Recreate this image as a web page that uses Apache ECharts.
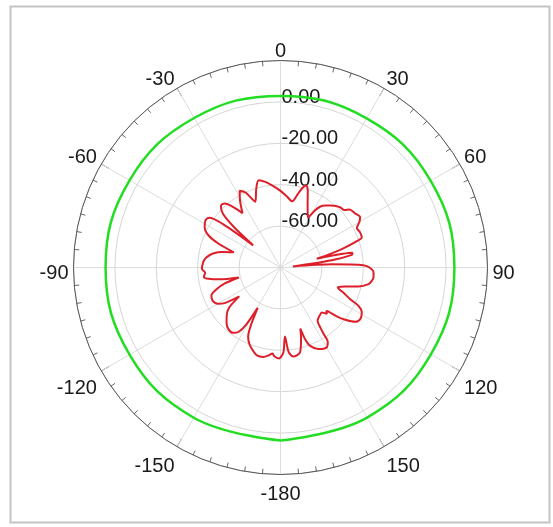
<!DOCTYPE html>
<html><head><meta charset="utf-8">
<script src="https://cdn.jsdelivr.net/npm/echarts@6/dist/echarts.min.js"></script>
<style>html,body{margin:0;padding:0;background:#fff}#c{width:553px;height:527px}</style>
</head><body><div id="c"></div>
<script>
// Angle tick labels (degrees, 0 at top, clockwise)
const angleTicks = [0,30,60,90,120,150,-180,-150,-120,-90,-60,-30];
// Radial tick labels (dB)
const radialTicks = [0,-20,-40,-60];
// Green trace
const greenAngles = [-180,-150,-120,-90,-60,-30,0,30,60,90,120,150,180];
const greenValues = [3.6,3.8,4.2,4.5,4.2,3.4,2.9,3.2,3.8,4.0,3.9,3.7,3.6];
// Red trace
const redAngles = [-180,-179,-176,-174.7,-172,-169,-165,-162,-158,-155,-152.5,-150.5,-149,-147,-144,-140,-136,-132,-128,-125,-122.5,-120,-116,-112,-109,-106,-103.5,-101,-99,-97,-94,-91,-88,-85,-82,-78,-75,-72,-69,-66,-62,-58,-55,-53,-51,-49,-47,-44,-41,-38,-35,-31,-28,-25,-21,-17,-14,-10,-5,0,5,10,13,15.5,17.5,19.5,22,25,29,31,33,36,39,42,45,48,50,54,57.7,60,62.7,66,69.6,71,73,75,76.5,77.5,78.5,80,82,85,86.5,87.5,88.4,90,93,96,98.5,100.7,103.7,106.4,109.2,112,114.5,116.2,119,122.9,126,128.9,131,132.5,133.5,135,137.4,141,145,146.5,147,147.5,150,155,159.2,161,162,164,167,171.7,174.5,176.3,178];
const redValues = [-36.5,-36,-37,-38.3,-37,-36,-36,-37.5,-40,-43,-50,-57.6,-48,-43,-41,-41,-42.5,-45,-48.5,-55.7,-48,-45,-43.5,-44,-47,-52,-59.3,-50,-45,-42.7,-43.5,-42,-42.3,-42.8,-44,-47,-51,-56.3,-48,-42,-38.5,-37.2,-38,-45,-63,-50,-42,-38.5,-39,-43,-48,-42,-38,-40,-46,-40,-36.5,-38,-40.5,-43,-45.5,-47.5,-44,-40,-38.5,-40.5,-45,-49,-52.3,-48,-45,-43,-41.5,-40,-39,-38.5,-36.5,-35.5,-34.5,-36,-38.5,-38,-38.1,-41,-48,-56,-62,-50,-44.5,-45,-55,-74,-55,-46,-40,-37,-35,-34.8,-35.5,-36.7,-41.2,-47.4,-50.7,-47,-43,-38,-35.1,-34.1,-35.4,-39.8,-44,-48.5,-49.5,-48.3,-50.5,-50,-48.8,-45,-41,-37.5,-35.4,-36.5,-39.5,-43.4,-49,-44,-38,-36.5,-39,-46.6,-39];

const toA = a => (a < 0 ? a + 360 : a);
const mk = (angs, vals) => { const d = angs.map((a, i) => [vals[i], toA(a)]); d.push(d[0]); return d; };
const topSet = [0,30,60,-30,-60], sideSet = [90,-90];

const chart = echarts.init(document.getElementById('c'), null, {renderer: 'canvas'});
const lblFont = {color: '#1a1a1a', fontSize: 20, fontFamily: 'Liberation Sans, Arial, sans-serif'};
chart.setOption({
  backgroundColor: '#fff',
  animation: false,
  graphic: [{type: 'rect', shape: {x: 10.5, y: 6.5, width: 539, height: 516}, style: {fill: 'none', stroke: '#c4c4c4', lineWidth: 2}, silent: true}],
  polar: {center: [280.5, 267.5], radius: 207},
  angleAxis: {
    type: 'value', min: 0, max: 360, interval: 30, startAngle: 90, clockwise: true,
    axisLine: {show: true, lineStyle: {color: '#555', width: 1}},
    axisTick: {show: true, inside: true, length: 9, lineStyle: {color: '#555'}},
    minorTick: {show: true, splitNumber: 6, length: 5, lineStyle: {color: '#666'}},
    splitLine: {show: true, lineStyle: {color: '#dcdcdc', width: 1}},
    axisLabel: {
      margin: 5,
      formatter: v => {
        if (v >= 360) return '';
        const a = v >= 180 ? v - 360 : v;
        if (angleTicks.indexOf(a) < 0) return '';
        const k = topSet.indexOf(a) >= 0 ? 't' : (sideSet.indexOf(a) >= 0 ? 's' : 'b');
        return '{' + k + '|' + a + '}';
      },
      rich: {
        t: Object.assign({lineHeight: 9}, lblFont),
        s: Object.assign({padding: [12, 0, 0, 0]}, lblFont),
        b: Object.assign({padding: [5, 0, 0, 0]}, lblFont)
      }
    }
  },
  radiusAxis: {
    type: 'value', min: -80, max: 20, interval: 20,
    axisLine: {show: false}, axisTick: {show: false},
    splitLine: {show: true, lineStyle: {color: '#d6d6d6', width: 1}},
    axisLabel: {
      margin: -1, align: 'left',
      formatter: v => radialTicks.indexOf(v) >= 0 ? '{r|' + v.toFixed(2) + '}' : '',
      rich: {r: Object.assign({padding: [0, 0, 9, 0]}, lblFont)}
    }
  },
  series: [
    {type: 'line', coordinateSystem: 'polar', data: mk(greenAngles, greenValues), smooth: 0.4, symbol: 'none',
     lineStyle: {color: '#22dd22', width: 2.5}},
    {type: 'line', coordinateSystem: 'polar', data: mk(redAngles, redValues), smooth: 0.3, symbol: 'none',
     lineStyle: {color: '#dd1f2a', width: 2}}
  ]
});
</script></body></html>
